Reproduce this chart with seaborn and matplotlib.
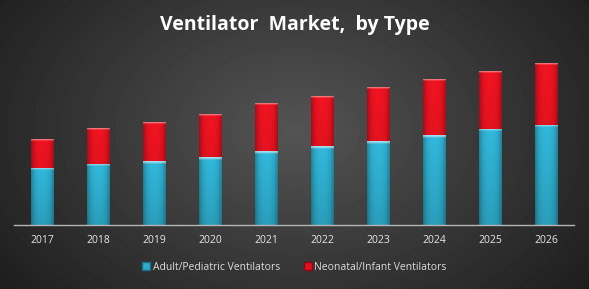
import numpy as np
import pandas as pd
import seaborn as sns
import matplotlib.pyplot as plt
from matplotlib.patches import Patch
from matplotlib.colors import to_rgb

plt.rcParams['font.family'] = ['Open Sans', 'DejaVu Sans']

years = [2017, 2018, 2019, 2020, 2021, 2022, 2023, 2024, 2025, 2026]
adult = [57, 61, 64, 68, 74, 79, 84, 90, 96, 100]
neonatal = [29.5, 36, 39, 43, 48, 50, 54, 56, 58, 62]
series = ['Adult/Pediatric Ventilators', 'Neonatal/Infant Ventilators']

BLUE = '#2eabcb'
RED = '#e0121f'

df = pd.DataFrame({'Year': years, 'Adult': adult, 'Neonatal': neonatal})
df['Total'] = df['Adult'] + df['Neonatal']

W, H = 589, 289
fig = plt.figure(figsize=(W / 100, H / 100), dpi=100)

# radial dark background
bg = fig.add_axes([0, 0, 1, 1], zorder=0)
yy, xx = np.mgrid[0:H, 0:W]
r = np.sqrt(((xx - W / 2) / 330) ** 2 + ((yy - 130) / 230) ** 2)
shade = np.clip(0.33 - 0.19 * r, 0.12, 0.34)
bg.imshow(shade, cmap='gray', vmin=0, vmax=1, aspect='auto', interpolation='bilinear')
bg.axis('off')

ax = fig.add_axes([14 / W, 64 / H, 560 / W, 185 / H], zorder=1)
ax.set_facecolor('none')
sns.barplot(data=df, x='Year', y='Total', color=RED, width=0.4, ax=ax, saturation=1)
sns.barplot(data=df, x='Year', y='Adult', color=BLUE, width=0.4, ax=ax, saturation=1)
ax.set_ylim(0, 185)
xlim = ax.get_xlim()

# glossy shading on each bar
fig.canvas.draw()
for p in list(ax.patches):
    x, y = p.get_x(), p.get_y()
    w, h = p.get_width(), p.get_height()
    if h <= 0:
        continue
    base = np.array(to_rgb(p.get_facecolor()))
    y0 = ax.transData.transform((0, y))[1]
    y1 = ax.transData.transform((0, y + h))[1]
    n = max(int(round(y1 - y0)), 2)
    u = np.linspace(0, 1, 24)
    fx = 1 - 0.28 * np.abs((u - 0.5) * 2) ** 3
    v = np.arange(n)
    fy = 1.08 - 0.16 * v / n
    img = base[None, None, :] * (fy[:, None, None] * fx[None, :, None])
    top = np.zeros(n)
    top[:3] = [0.55, 0.4, 0.15][:min(3, n)]
    img = img + (1 - img) * top[:, None, None]
    img = np.clip(img, 0, 1)
    im = ax.imshow(img, extent=(x, x + w, y, y + h), origin='upper', aspect='auto',
                   interpolation='bilinear', zorder=p.get_zorder() + 0.1)
    im.set_clip_path(p)
    p.set_edgecolor('#202020')
    p.set_linewidth(0.6)

ax.set_xlim(xlim)
ax.set_ylim(0, 185)
ax.set_xlabel('')
ax.set_ylabel('')
ax.set_yticks([])
for s in ['left', 'top', 'right']:
    ax.spines[s].set_visible(False)
ax.spines['bottom'].set_color('#b5b5b5')
ax.spines['bottom'].set_linewidth(1)
ax.tick_params(axis='x', colors='#e6e6e6', length=0, labelsize=7.5, pad=7)

fig.text(0.5, 1 - 25 / H, 'Ventilator  Market,  by Type', ha='center', va='center',
         color='white', fontsize=14, fontweight='bold')

handles = [Patch(facecolor=BLUE, edgecolor='#156f88'), Patch(facecolor=RED, edgecolor='#8a0a12')]
fig.legend(handles, series, loc='center', bbox_to_anchor=(0.5, 1 - 267 / H), ncol=2,
           frameon=False, fontsize=7.5, labelcolor='#dddddd', handlelength=0.75,
           handleheight=0.75, handletextpad=0.25, columnspacing=2.3)

fig.savefig('out.png', dpi=100)
